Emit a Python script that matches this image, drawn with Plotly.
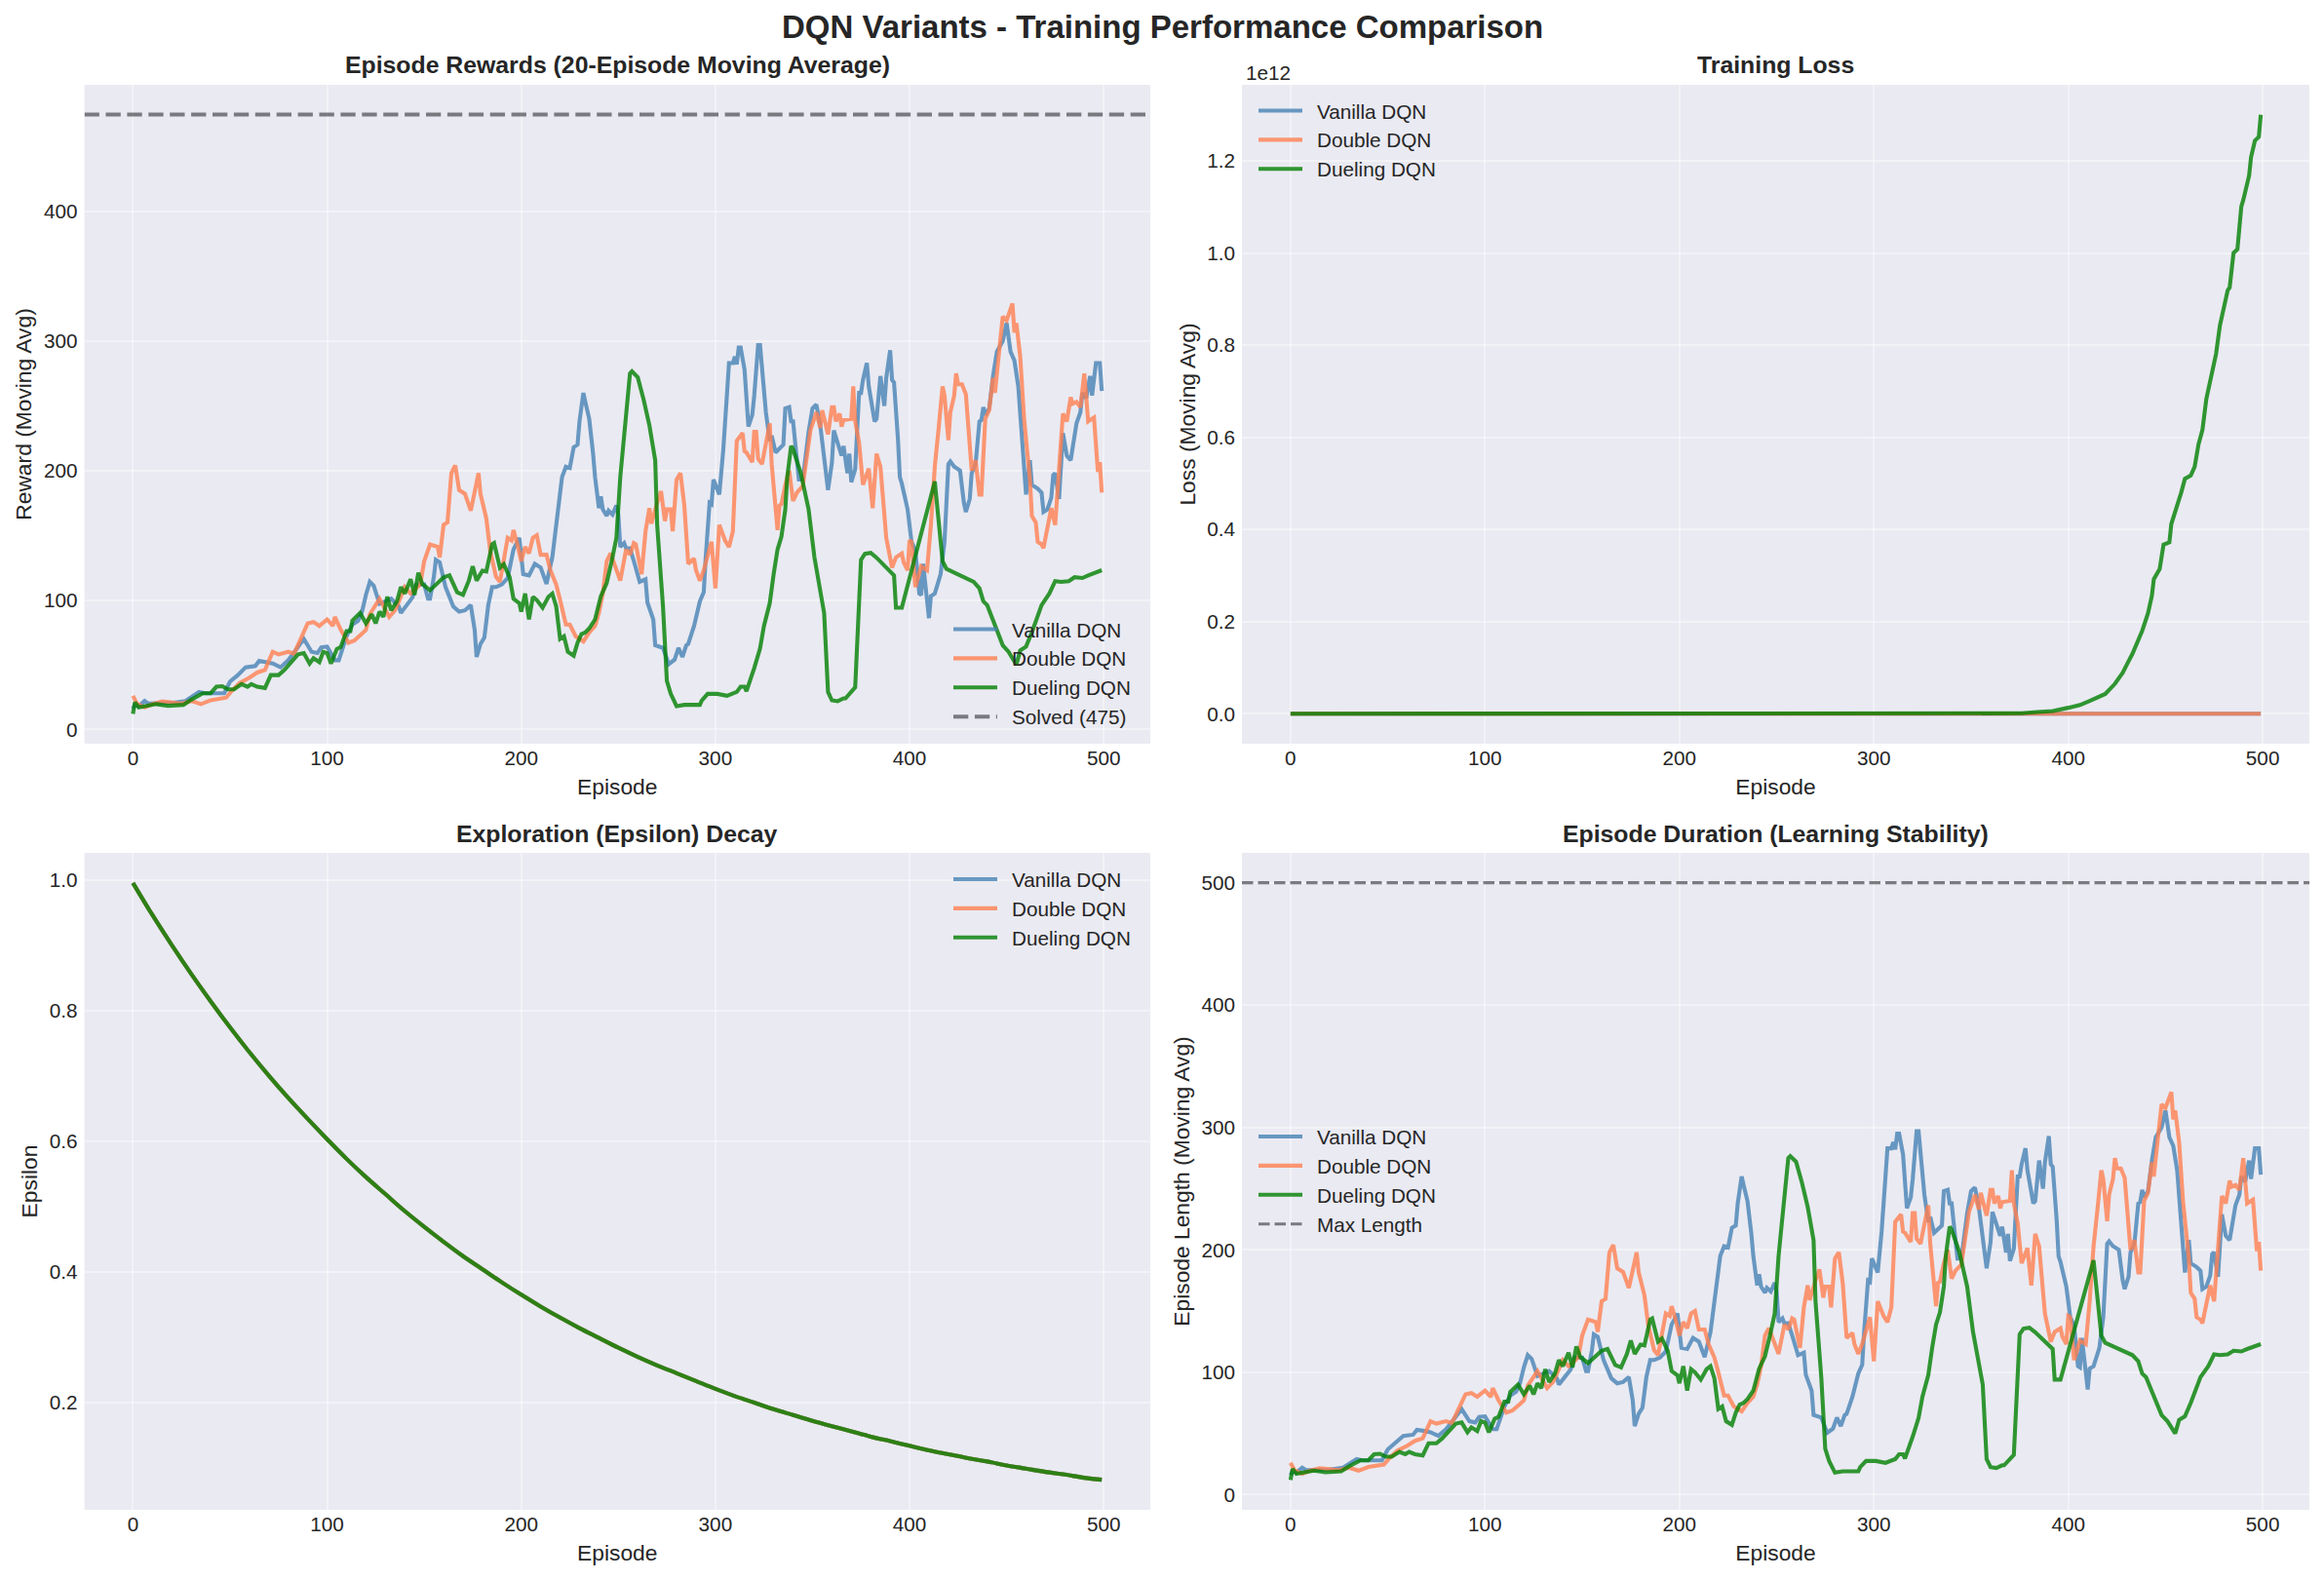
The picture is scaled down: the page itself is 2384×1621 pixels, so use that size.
import plotly.graph_objects as go

# (episode, value) pairs
reward_vanilla = [(0,16),(1,19),(3,18),(6,22),(8,20),(10,20),(20,20.5),(27,22),(30,25),(34,29),(37,28),(40,28),(47,28),(50,37),(54,42),(58,48),(63,49),(65,53),(69,52),(72,51),(76,48),(80,53.5),(85,63.6),(88,70),(92,60),(95,59),(97,63.5),(100,64),(104,53.5),(106,53.5),(110,72),(113,81),(116,84),(118,91),(120,104),(122,114),(124,111),(127,97),(130,99),(133,101),(137,95),(138,90),(141,96),(144,102),(146,112),(150,112),(152,101),(153,101),(155,118),(156,131),(158,129),(161,110),(165,95),(168,91),(171,92),(174,96),(176,77),(177,56),(179,66),(181,71),(183,96),(185,110),(187,110),(190,112),(193,117),(196,139),(199,148),(201,120),(204,119),(207,128),(210,125),(213,112.5),(216,133),(218,160),(221,195),(223,203),(225,202),(227,218),(229,220),(230,238),(232,260),(233,253),(235,240),(237,213),(238,195),(240,171),(241,180),(242,170),(244,165),(245,169),(247,166),(249,173),(250,166),(251,141),(253,144),(254,140),(256,140),(258,130),(261,114),(264,116),(265,98),(268,85),(269,65),(273,63),(276,50.5),(279,54),(281,63),(283,56),(285,65),(286,66),(289,80),(292,99),(294,106),(295,133),(297,175),(298,174),(299,193),(302,181.5),(304,215),(306,260),(307,283),(309,283),(310,288),(311,282),(312,295),(313,295),(315,278),(317,234),(319,243),(320,258),(322,297),(323,297),(326,245),(328,223),(329,227),(331,214),(335,220),(336,248),(338,249),(339,238),(340,238),(343,193),(345,193),(348,230),(350,248),(352,251),(354,235),(358,185),(360,206),(361,231),(365,211.5),(366,219),(368,198),(369,213),(370,191),(372,201),(374,260),(375,260),(376,270),(378,283),(379,265),(382,238),(383,240),(385,273),(387,250),(388,271.6),(390,293),(391,270),(392,268),(394,225),(395,195),(396,190),(398,175),(399,170),(401,145),(403,138),(405,105),(406,104),(407,128),(408,113),(410,86),(411,103),(413,105),(416,120),(418,145),(420,205),(421,207),(423,203),(426,200),(428,175),(429,168),(431,178),(432,198),(434,205),(436,238),(437,239),(438,249),(439,243),(441,248),(443,273),(445,292),(448,300),(450,314),(452,292),(454,285),(456,265),(458,228),(460,181.5),(462,208),(463,189),(466,186),(468,183),(469,168),(471,170),(473,179),(474,196.5),(475,198),(477,178),(479,229),(481,211.5),(483,208),(484,218),(486,236.5),(488,245),(489,260),(491,256),(493,273),(494,258),(495,270),(496,283),(498,283),(499,261.5)]

reward_double = [(0,26),(2,20),(6,17),(10,19.6),(15,21.6),(25,20),(30,22),(35,19.6),(40,22.6),(48,24.6),(51,30),(55,36),(60,40),(64,44),(68,46),(72,60),(75,58),(80,60),(83,58.5),(87,72),(90,82),(93,83),(96,80),(100,85),(103,80),(104,87),(107,77),(111,67),(114,68.6),(118,74),(120,77),(122,89),(127,101),(132,87),(135,92),(137,99),(140,110),(143,105),(148,112),(150,130),(153,143),(157,141),(158,133),(160,158),(162,160),(164,198),(166,204),(168,185),(171,182),(174,169),(176,185),(178,198),(179,182),(182,163),(184,138),(187,118),(189,114),(191,133),(193,148),(195,146),(196,154),(198,143),(200,130),(202,141),(204,136),(206,148),(208,150),(210,135),(213,135),(215,123),(218,112),(220,100),(223,81),(225,81),(228,72),(232,68),(235,75),(238,80),(240,90),(242,105),(244,130),(246,136),(249,123),(251,115),(254,139),(256,135),(258,144),(259,143),(262,120),(264,153),(266,171),(267,159),(270,175),(272,184),(274,161),(275,170),(277,170),(278,153),(280,193),(282,198),(284,173),(286,128),(289,132),(290,123),(292,115),(294,123),(298,145),(300,109),(302,158),(305,146),(307,141),(309,153),(311,223),(314,229),(315,215),(316,214),(319,206.5),(320,230),(321,230),(322,209),(324,205),(325,213),(328,236.5),(329,205),(332,154),(333,173),(334,174),(336,189),(338,200),(340,176.5),(342,183),(345,188),(347,209),(349,231.5),(352,245),(354,233),(355,246.6),(358,228),(360,249),(361,249),(362,238),(364,244),(365,234),(366,239),(370,240),(371,265),(372,238),(374,221.5),(376,189),(379,201.5),(381,171),(383,213),(385,203),(388,148),(391,125),(393,133),(396,136),(397,129),(399,123),(400,146),(401,145),(403,110),(406,126),(409,123),(411,158),(413,203),(415,233),(417,265),(418,258),(420,223.5),(421,245),(423,258),(424,275),(425,266.6),(427,266.6),(429,259),(432,200),(434,208),(436,181.5),(437,181.5),(439,240),(441,246.6),(443,271.6),(444,260),(446,290),(448,319),(450,316),(451,320),(453,329),(454,306.6),(455,314),(457,288),(459,240),(462,193),(463,165),(465,160),(466,145),(468,143),(469,140),(470,148),(473,171),(475,158),(477,203),(479,244),(481,238),(483,256.6),(484,251.6),(486,253),(488,249),(490,275),(492,238),(495,241),(497,199),(498,206.5),(499,183)]

reward_dueling = [(0,12),(1,21),(3,17),(12,19.6),(18,18.3),(26,19),(30,23),(36,28),(40,28),(43,33),(46,33.4),(49,31),(52,31),(56,35),(59,33),(61,35),(64,33),(68,32),(71,42),(75,42),(78,46),(82,53.5),(85,58),(88,59),(91,51),(93,55),(96,52),(98,60),(100,59),(102,51),(105,62),(107,63.6),(110,76),(112,76),(113,84),(117,90),(120,82),(123,89),(125,82),(127,91),(129,87),(131,102.5),(133,92),(136,99),(138,110),(140,105),(143,116),(145,104),(147,121),(149,112.5),(153,107.5),(160,117.6),(163,119),(167,106),(170,104),(173,115),(175,126),(177,115),(180,122.6),(182,122),(185,143),(186,144),(189,125),(191,127.6),(194,117.6),(196,101),(199,97.5),(200,91),(202,105),(204,85),(206,102.5),(208,100),(211,94),(214,102.5),(216,105),(218,95),(220,70),(222,72),(224,60),(227,57),(229,67),(231,73.6),(233,75),(235,78),(238,85),(241,103),(244,113),(247,133),(249,148),(251,195),(254,245),(256,275),(257,276.6),(260,272),(263,255),(266,235),(269,208),(270,158),(273,95),(275,37.5),(277,27.5),(280,18),(284,19),(292,19),(293,22.5),(296,27.5),(301,27.5),(306,26),(311,29),(313,33),(315,33),(316,29.5),(320,47.5),(323,62.6),(325,80),(328,97.6),(330,120),(332,139),(334,149),(336,170),(337,195),(339,219),(340,216.5),(344,198),(348,170),(351,133),(356,90),(358,29),(360,22.5),(363,21.8),(366,24),(367,24),(372,32.5),(375,131),(377,135.7),(380,136.4),(383,132.7),(392,119),(393,94),(396,94),(413,191.5),(417,130),(419,124),(427,118.4),(429,117.6),(433,114),(436,109),(438,99),(440,96),(448,65),(451,60),(455,50),(457,61),(460,64),(463,75),(468,96),(472,105),(475,114.6),(478,114),(482,114.6),(485,117.6),(489,117),(492,119),(499,123)]

epsilon_episode = [0,10,20,30,40,50,60,70,80,90,100,110,120,130,140,150,160,170,180,190,200,210,220,230,240,250,260,270,280,290,300,310,320,330,340,350,360,370,380,390,400,410,420,430,440,450,460,470,480,490,499]
epsilon_value = [.995,.946,.900,.856,.814,.774,.736,.700,.666,.634,.603,.573,.545,.519,.493,.469,.446,.424,.404,.384,.365,.347,.330,.314,.299,.284,.270,.257,.245,.233,.221,.210,.200,.190,.181,.172,.164,.156,.148,.141,.134,.127,.121,.115,.110,.104,.099,.094,.090,.085,.082]

# loss in units of 1e12
loss_flat = [(0,0),(499,0)]
loss_dueling = [(0,0),(370,0),(376,.001),(384,.0036),(392,.006),(400,.013),(406,.019),(411,.028),(419,.043),(424,.065),(428,.089),(431,.114),(433,.13),(438,.18),(441,.218),(443,.256),(444,.292),(447,.314),(449,.367),(452,.372),(453,.412),(458,.479),(460,.51),(463,.517),(465,.536),(467,.585),(469,.616),(471,.683),(474,.741),(476,.781),(478,.843),(480,.883),(482,.919),(483,.925),(484,.968),(485,1.0),(487,1.008),(489,1.101),(490,1.115),(493,1.168),(494,1.208),(496,1.244),(498,1.252),(499,1.3)]

solved_level = 475
max_length = 500
span_episodes = [-25, 524]
x_ticks = [0,100,200,300,400,500]
titles = ["Episode Rewards (20-Episode Moving Average)", "Training Loss", "Exploration (Epsilon) Decay", "Episode Duration (Learning Stability)"]
main_title = "DQN Variants - Training Performance Comparison"
ylabels = ["Reward (Moving Avg)", "Loss (Moving Avg)", "Epsilon", "Episode Length (Moving Avg)"]
names = ["Vanilla DQN", "Double DQN", "Dueling DQN"]
colors = ["rgba(70,130,180,0.8)", "rgba(255,127,80,0.8)", "rgba(0,128,0,0.8)"]

W, H = 2384, 1621
INK = "#262626"
FONT = "Liberation Sans"
TICK = 20.7
LABEL = 22.8
LW = 4.1

def xs(p): return [a for a, _ in p]
def ys(p): return [b for _, b in p]

fig = go.Figure()

def line(panel, x, y, name, color, dash="solid", width=LW, shape="linear"):
    suffix = "" if panel == 1 else str(panel)
    fig.add_trace(go.Scatter(x=x, y=y, mode="lines", name=name,
                             line=dict(color=color, width=width, dash=dash, shape=shape),
                             xaxis="x" + suffix, yaxis="y" + suffix,
                             legend="legend" + suffix, hoverinfo="skip"))

rewards = [reward_vanilla, reward_double, reward_dueling]
losses = [loss_flat, loss_flat, loss_dueling]
for n, c, r in zip(names, colors, rewards):
    line(1, xs(r), ys(r), n, c)
line(1, span_episodes, [solved_level]*2, "Solved (475)", "rgba(60,60,65,0.65)", dash="15.3px,6.6px")
for n, c, l in zip(names, colors, losses):
    line(2, xs(l), ys(l), n, c)
for n, c in zip(names, colors):
    line(3, epsilon_episode, epsilon_value, n, c, shape="spline")
for n, c, r in zip(names, colors, rewards):
    line(4, xs(r), ys(r), n, c)
line(4, span_episodes, [max_length]*2, "Max Length", "rgba(60,60,65,0.65)", dash="11.5px,5px", width=3.1)

boxes = {1: (86.6, 1180, 87, 763), 2: (1274, 2369, 87, 763), 3: (86.6, 1180, 875, 1549), 4: (1274, 2369, 875, 1549)}
yranges = {1: [-11, 498], 2: [-0.065, 1.365], 3: [0.036, 1.041], 4: [-12.4, 524.4]}
yticks = {1: [0,100,200,300,400], 2: [0,.2,.4,.6,.8,1.0,1.2], 3: [.2,.4,.6,.8,1.0], 4: [0,100,200,300,400,500]}
ytext = {1: None, 2: ["0.0","0.2","0.4","0.6","0.8","1.0","1.2"], 3: ["0.2","0.4","0.6","0.8","1.0"], 4: None}
ystandoff = {1: 6, 2: 5, 3: 5, 4: 5}
legend_pos = {1: (973, 625.5), 2: (1286, 93.5), 3: (973, 882), 4: (1286, 1146)}

layout = dict(width=W, height=H, autosize=False, margin=dict(l=0, r=0, t=0, b=0, pad=0),
              paper_bgcolor="white", plot_bgcolor="#EAEAF2",
              font=dict(family=FONT, size=TICK, color=INK), showlegend=True)
grid = "rgba(255,255,255,0.38)"
for p, (l, r, t, b) in boxes.items():
    s = "" if p == 1 else str(p)
    layout["xaxis" + s] = dict(domain=[l / W, r / W], range=span_episodes, anchor="y" + s,
                               tickvals=x_ticks, showgrid=True, gridcolor=grid, gridwidth=2, zeroline=False,
                               showline=False, ticks="", ticklabelstandoff=0,
                               tickfont=dict(size=TICK, color=INK, family=FONT),
                               title=dict(text="Episode", font=dict(size=LABEL, color=INK, family=FONT), standoff=11))
    y = dict(domain=[1 - b / H, 1 - t / H], range=yranges[p], anchor="x" + s,
             tickvals=yticks[p], showgrid=True, gridcolor=grid, gridwidth=2, zeroline=False,
             showline=False, ticks="", ticklabelstandoff=6,
             tickfont=dict(size=TICK, color=INK, family=FONT),
             title=dict(text=ylabels[p - 1], font=dict(size=LABEL, color=INK, family=FONT), standoff=ystandoff[p]))
    if ytext[p]:
        y["ticktext"] = ytext[p]
    layout["yaxis" + s] = y
    lx, ly = legend_pos[p]
    layout["legend" + s] = dict(x=lx / W, y=1 - ly / H, xanchor="left", yanchor="top",
                                bgcolor="rgba(0,0,0,0)", borderwidth=0, itemwidth=45,
                                font=dict(size=TICK, color=INK, family=FONT),
                                itemclick=False, itemdoubleclick=False)
fig.update_layout(**layout)

title_pos = {1: 67, 2: 67, 3: 855, 4: 855}
for p, txt in enumerate(titles, 1):
    l, r, _, _ = boxes[p]
    fig.add_annotation(text="<b>%s</b>" % txt, xref="paper", yref="paper", x=(l + r) / 2 / W, y=1 - title_pos[p] / H,
                       xanchor="center", yanchor="middle", showarrow=False,
                       font=dict(size=24.8, color=INK, family=FONT))
fig.add_annotation(text="<b>%s</b>" % main_title, xref="paper", yref="paper", x=0.5, y=1 - 27 / H,
                   xanchor="center", yanchor="middle", showarrow=False,
                   font=dict(size=33, color=INK, family=FONT))
fig.add_annotation(text="1e12", xref="paper", yref="paper", x=1276 / W, y=1 - 74 / H,
                   xanchor="left", yanchor="middle", showarrow=False,
                   font=dict(size=TICK, color=INK, family=FONT))

post = """document.body.style.margin='0';
function shiftLegendText(){
  ['legend','legend2','legend3','legend4'].forEach(function(id){
    document.querySelectorAll('text.'+id+'text').forEach(function(t){
      var x=parseFloat(t.getAttribute('x'));
      if(x<62){t.setAttribute('x', x+10);}
    });
    document.querySelectorAll('.'+id+' .scrollbox').forEach(function(s){s.removeAttribute('clip-path');});
  });
}
var gd=document.getElementById('{plot_id}');
if(gd.on){gd.on('plotly_afterplot',shiftLegendText);}
shiftLegendText();
[0,30,100,300,800].forEach(function(ms){setTimeout(shiftLegendText,ms);});"""
fig.write_html("out.html", config={"displayModeBar": False}, post_script=post)
